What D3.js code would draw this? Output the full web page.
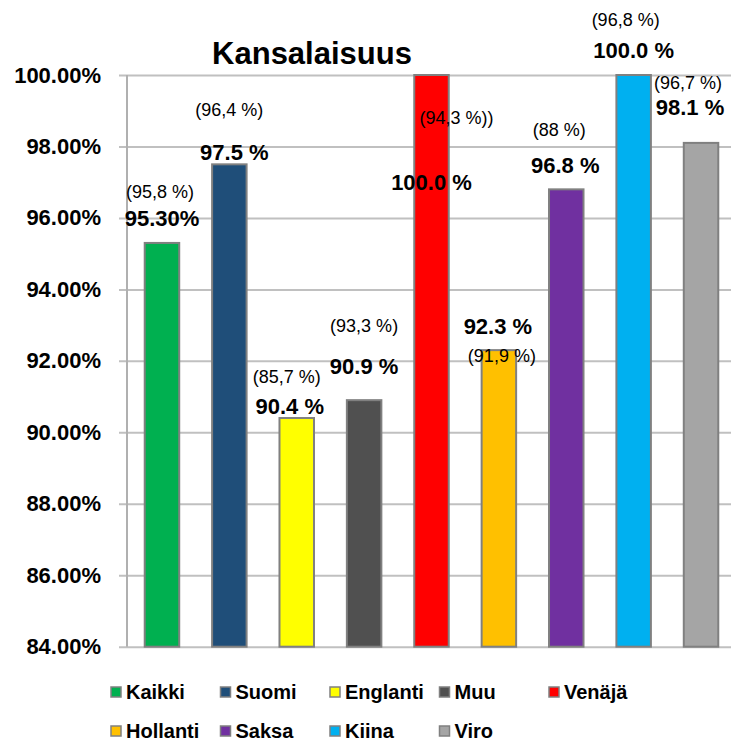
<!DOCTYPE html>
<html>
<head>
<meta charset="utf-8">
<script src="https://cdn.jsdelivr.net/npm/d3@7"></script>
<style>
  body { margin: 0; background: #fff; }
  text { font-family: "Liberation Sans", Arial, sans-serif; }
</style>
</head>
<body>
<svg id="graph"></svg>
<script>
// data
var categories = ["Kaikki", "Suomi", "Englanti", "Muu", "Venäjä", "Hollanti", "Saksa", "Kiina", "Viro"];
var values = [95.3, 97.5, 90.4, 90.9, 100.0, 92.3, 96.8, 100.0, 98.1];
var valueLabels = ["95.30%", "97.5 %", "90.4 %", "90.9 %", "100.0 %", "92.3 %", "96.8 %", "100.0 %", "98.1 %"];
var prevLabels = ["(95,8 %)", "(96,4 %)", "(85,7 %)", "(93,3 %)", "(94,3 %))", "(91,9 %)", "(88 %)", "(96,8 %)", "(96,7 %)"];
var colors = ["#00b050", "#1f4e79", "#ffff00", "#505050", "#ff0000", "#ffc000", "#7030a0", "#00b0f0", "#a5a5a5"];
var yTicks = [84, 86, 88, 90, 92, 94, 96, 98, 100];

// label placement (px offsets from bar centre / bar top), hand placed like in the original
var valueOffset = [[0,-24],[5,-12],[-7,-12],[0,-34],[0,107],[-1,-24],[-1,-24],[0,-25],[-11,-35]];
var prevOffset = [[-2,-51],[0,-54],[-10,-41],[0,-74],[25,43],[3,6],[-7,-59],[-8,-55],[-13,-60]];

var screen = {width: 731, height: 741};

var svg = d3.select("#graph")
    .attr("width", screen.width)
    .attr("height", screen.height);

var xScale = d3.scaleBand()
    .domain(categories)
    .range([127, 736])
    .paddingInner(0.488)
    .paddingOuter(0.263);

var yScale = d3.scaleLinear()
    .domain([84, 100])
    .range([646.7, 75]);

// gridlines + tick labels
var yAxis = d3.axisLeft(yScale)
    .tickValues(yTicks)
    .tickSize(-(screen.width - 119))
    .tickFormat(function(d) { return d.toFixed(2) + "%"; });

var gAxis = svg.append("g")
    .attr("transform", "translate(119,0)")
    .call(yAxis);
gAxis.select(".domain").remove();
gAxis.selectAll(".tick line")
    .attr("stroke", "#c0c0c0")
    .attr("stroke-width", 2);
gAxis.selectAll(".tick text")
    .attr("x", -18)
    .attr("fill", "#000")
    .style("font-size", "22px")
    .style("font-weight", "bold");

// vertical axis line
svg.append("line")
    .attr("x1", 127).attr("x2", 127)
    .attr("y1", yScale(100)).attr("y2", yScale(84))
    .attr("stroke", "#b0b0b0")
    .attr("stroke-width", 2);

// bars
svg.selectAll("rect.bar")
    .data(values)
    .enter()
    .append("rect")
    .attr("class", "bar")
    .attr("x", function(d, i) { return xScale(categories[i]); })
    .attr("y", function(d) { return yScale(d); })
    .attr("width", xScale.bandwidth())
    .attr("height", function(d) { return yScale(84) - yScale(d); })
    .attr("fill", function(d, i) { return colors[i]; })
    .attr("stroke", "#808080")
    .attr("stroke-width", 2);

var cx = function(i) { return xScale(categories[i]) + xScale.bandwidth() / 2; };

// earlier-value labels in brackets
svg.selectAll("text.prev")
    .data(prevLabels)
    .enter()
    .append("text")
    .attr("class", "prev")
    .attr("x", function(d, i) { return cx(i) + prevOffset[i][0]; })
    .attr("y", function(d, i) { return yScale(values[i]) + prevOffset[i][1]; })
    .attr("text-anchor", "middle")
    .attr("dominant-baseline", "central")
    .style("font-size", "18px")
    .text(function(d) { return d; });

// value labels
svg.selectAll("text.val")
    .data(valueLabels)
    .enter()
    .append("text")
    .attr("class", "val")
    .attr("x", function(d, i) { return cx(i) + valueOffset[i][0]; })
    .attr("y", function(d, i) { return yScale(values[i]) + valueOffset[i][1]; })
    .attr("text-anchor", "middle")
    .attr("dominant-baseline", "central")
    .style("font-size", "22px")
    .style("font-weight", "bold")
    .text(function(d) { return d; });

// title
svg.append("text")
    .attr("x", 312)
    .attr("y", 64)
    .attr("text-anchor", "middle")
    .style("font-size", "31px")
    .style("font-weight", "bold")
    .text("Kansalaisuus");

// legend
var legend = svg.selectAll("g.leg")
    .data(categories)
    .enter()
    .append("g")
    .attr("class", "leg")
    .attr("transform", function(d, i) {
        return "translate(" + (111 + (i % 5) * 109.5) + "," + (i < 5 ? 692 : 731) + ")";
    });
legend.append("rect")
    .attr("x", 0).attr("y", -5)
    .attr("width", 10).attr("height", 10)
    .attr("fill", function(d, i) { return colors[i]; })
    .attr("stroke", "#808080")
    .attr("stroke-width", 1.5);
legend.append("text")
    .attr("x", 15)
    .attr("y", 0)
    .attr("dominant-baseline", "central")
    .style("font-size", "20px")
    .style("font-weight", "bold")
    .text(function(d) { return d; });
</script>
</body>
</html>
